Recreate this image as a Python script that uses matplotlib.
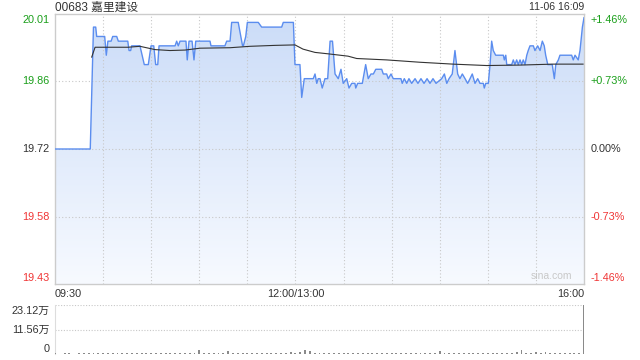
import matplotlib.pyplot as plt
import numpy as np
from matplotlib.colors import LinearSegmentedColormap

# minute index (0 = 09:30, 150 = 12:00/13:00, 330 = 16:00) and price
price_min = [0, 22, 24, 25.4, 26, 31, 32, 33, 35, 36, 38.5, 39.5, 45.4, 46.2, 47.2, 47.8,
             53, 55.7, 58.2, 59.9, 61.6, 62.8, 64.1, 64.9, 74.9, 75.9, 76.9, 78, 81.7, 82.5,
             83.6, 85.5, 86.7, 87.8, 96.7, 97.3, 106, 107.1, 109.2, 110.2, 114.3, 117, 117.5,
             119, 120, 126.8, 128.9, 141.4, 142.4, 148.7, 149.7, 152.8, 153.9, 155.5, 161.1,
             162.2, 163.3, 164.2, 165.3, 166.7, 168.4, 170.1, 171.6, 173.1, 174.7, 176.7,
             178.4, 179.8, 182, 183.4, 185.1, 187.1, 187.6, 188.8, 191.7, 193.8, 195.4, 197.1,
             198.6, 200.1, 203.8, 204.8, 206.9, 207.9, 209.6, 211, 215.8, 216.6, 217.9, 219.4,
             220.8, 222.5, 224.6, 226.4, 228.3, 230.2, 232.1, 233.9, 235.8, 237.7, 241.2,
             242.9, 244.4, 245.8, 247.8, 249.5, 251.2, 252.6, 254.1, 255.8, 257.4, 258.9,
             260.3, 262, 263.7, 265.1, 267.2, 267.8, 268.7, 270.3, 271.4, 272.4, 273.4, 274.9,
             279.7, 280.3, 281.2, 281.8, 284.9, 285.9, 286.9, 288, 289, 290.1, 291.1, 292.1,
             293.2, 294.3, 295.2, 296.3, 298.4, 299.4, 301.1, 302.6, 304, 305.2, 306.1, 307.4,
             310.2, 311.5, 312.4, 314, 315, 322.3, 323.3, 324.4, 326.4, 327.5, 329, 330]
price = [19.72, 19.72, 19.98, 19.98, 19.96, 19.96, 19.92, 19.95, 19.95, 19.96, 19.96, 19.95,
         19.95, 19.93, 19.93, 19.94, 19.94, 19.90, 19.90, 19.94, 19.94, 19.90, 19.90, 19.94,
         19.94, 19.95, 19.94, 19.95, 19.95, 19.91, 19.95, 19.95, 19.91, 19.95, 19.95, 19.94,
         19.94, 19.95, 19.95, 19.99, 19.99, 19.94, 19.94, 19.96, 19.99, 19.99, 19.98, 19.98,
         19.99, 19.99, 19.90, 19.90, 19.83, 19.87, 19.87, 19.88, 19.86, 19.87, 19.87, 19.85,
         19.87, 19.87, 19.95, 19.95, 19.88, 19.87, 19.89, 19.86, 19.87, 19.85, 19.86, 19.86,
         19.85, 19.86, 19.86, 19.90, 19.87, 19.88, 19.88, 19.89, 19.89, 19.88, 19.88, 19.87,
         19.88, 19.87, 19.87, 19.86, 19.87, 19.86, 19.87, 19.86, 19.87, 19.86, 19.87, 19.86,
         19.87, 19.86, 19.87, 19.86, 19.87, 19.88, 19.86, 19.87, 19.88, 19.93, 19.88, 19.87,
         19.88, 19.87, 19.86, 19.87, 19.88, 19.86, 19.87, 19.86, 19.86, 19.85, 19.86, 19.86,
         19.90, 19.95, 19.93, 19.92, 19.92, 19.91, 19.92, 19.90, 19.90, 19.91, 19.90, 19.91,
         19.90, 19.91, 19.90, 19.91, 19.90, 19.92, 19.93, 19.94, 19.94, 19.93, 19.94, 19.93,
         19.95, 19.94, 19.92, 19.90, 19.90, 19.87, 19.90, 19.91, 19.92, 19.92, 19.91, 19.92,
         19.91, 19.93, 19.98, 20.00]

avg_min = [22.9, 25, 45.5, 53, 62.4, 71.7, 81.1, 90.5, 109.2, 121.6, 137.2, 149.7, 154.7,
           162.2, 170.3, 182.8, 188.2, 206.9, 227.7, 248.3, 269.3, 290.1, 310.7, 329.4]
avg_price = [19.916, 19.937, 19.937, 19.939, 19.932, 19.930, 19.931, 19.935, 19.936, 19.939,
             19.941, 19.942, 19.933, 19.926, 19.923, 19.918, 19.913, 19.910, 19.905, 19.901,
             19.898, 19.899, 19.901, 19.901]

# volume in 万 shares, one bar every 3 minutes
vol_min = list(range(0, 331, 3))
vol = [0.3, 0.2, 0.4, 0.3, 0.2, 0.5, 0.3, 0.4, 0.6, 0.4,
       0.3, 0.5, 0.4, 0.3, 0.6, 0.4, 0.3, 0.5, 0.4, 0.3,
       0.4, 0.3, 0.5, 0.4, 0.3, 0.4, 0.5, 0.3, 0.4, 0.6,
       1.9, 0.5, 0.4, 0.3, 0.5, 0.4, 1.4, 0.5, 0.3, 0.4,
       0.5, 0.3, 0.4, 0.3, 0.5, 0.4, 0.3, 0.4, 0.6, 0.8,
       0.7, 0.9, 1.9, 1.4, 0.6, 0.5, 0.4, 0.3, 0.5, 0.4,
       0.3, 0.4, 0.5, 0.3, 0.4, 0.3, 0.5, 0.4, 0.3, 0.4,
       0.5, 0.4, 0.3, 0.6, 0.4, 0.5, 0.3, 0.4, 0.5, 0.7,
       1.4, 0.6, 0.4, 0.5, 0.3, 0.4, 0.6, 0.5, 0.4, 0.3,
       0.5, 0.4, 0.6, 0.5, 0.4, 0.7, 0.8, 1.9, 0.6, 0.5,
       1.0, 0.6, 1.0, 0.7, 0.5, 0.6, 0.4, 0.5, 0.6, 0.5,
       23.12]

prev_close = 19.72
left_labels = ["20.01", "19.86", "19.72", "19.58", "19.43"]
right_labels = ["+1.46%", "+0.73%", "0.00%", "-0.73%", "-1.46%"]
label_pct = [1.46, 0.73, 0.0, -0.73, -1.46]
vol_labels = ["23.12万", "11.56万", "0"]

GREEN = "#1a9f1a"
RED = "#f03535"
DARK = "#333333"
GRIDC = "#c8c8c8"
FONT = ["Liberation Sans", "Noto Sans CJK SC", "DejaVu Sans"]
plt.rcParams['font.family'] = FONT

fig = plt.figure(figsize=(6.4, 3.6), dpi=100)
ax = fig.add_axes([55/640, 1-284/360, 529/640, 270/360])
ylo = prev_close*(1-0.0146)
yhi = prev_close*(1+0.0146)

# gradient fill under the price line
fb = ax.fill_between(price_min, price, ylo, facecolor='none', edgecolor='none')
cmap = LinearSegmentedColormap.from_list("g", ["#f7faff", "#cbdcf8"])
grad = np.linspace(0, 1, 256).reshape(-1, 1)
im = ax.imshow(grad, extent=[0, 330, ylo, yhi], origin='lower', aspect='auto',
               cmap=cmap, zorder=1)
im.set_clip_path(fb.get_paths()[0], transform=ax.transData)

ax.plot(price_min, price, color="#5b8def", lw=1.0, zorder=3)
ax.plot(avg_min, avg_price, color="#333333", lw=0.8, zorder=4)
ax.set_xlim(0, 330)
ax.set_ylim(ylo, yhi)

for m in range(30, 330, 30):
    ax.axvline(m, color=GRIDC, lw=0.8, ls=(0, (1, 2)), zorder=2)
for p in label_pct[1:4]:
    ax.axhline(prev_close*(1+p/100), color=GRIDC, lw=0.8, ls=(0, (1, 2)), zorder=2)
for s in ax.spines.values():
    s.set_color("#cccccc")
    s.set_linewidth(1)
ax.set_xticks([])
ax.set_yticks([])

cols = [GREEN, GREEN, DARK, RED, RED]
vas = ['top', 'center', 'center', 'center', 'bottom']
offs = [-1, 0, 0, 0, 1]
for lab, rlab, p, c, va, o in zip(left_labels, right_labels, label_pct, cols, vas, offs):
    yv = prev_close*(1+p/100)
    ax.annotate(lab, (0, yv), xytext=(-4, o), textcoords='offset points', ha='right', va=va,
                color=c, fontsize=7.8, annotation_clip=False)
    ax.annotate(rlab, (330, yv), xytext=(4.5, o), textcoords='offset points', ha='left', va=va,
                color=c, fontsize=7.8, annotation_clip=False)

ax.text(0, -0.02, "09:30", transform=ax.transAxes, ha='left', va='top', fontsize=7.8, color=DARK)
ax.text(150/330, -0.02, "12:00/13:00", transform=ax.transAxes, ha='center', va='top',
        fontsize=7.8, color=DARK)
ax.text(1, -0.02, "16:00", transform=ax.transAxes, ha='right', va='top', fontsize=7.8, color=DARK)
fig.text(55/640, 1-7.5/360, "00683 嘉里建设", ha='left', va='center', fontsize=8.5, color=DARK)
fig.text(584/640, 1-7.5/360, "11-06 16:09", ha='right', va='center', fontsize=7.6, color=DARK)
ax.text(0.978, 0.012, "sina.com", transform=ax.transAxes, ha='right', va='bottom',
        fontsize=7.5, color="#c8c8c8", zorder=5)

# volume panel
vx = fig.add_axes([55/640, 6/360, 529/640, 49/360])
vx.bar(vol_min, vol, width=1.2, color="#8a8a8a", zorder=3)
vx.set_xlim(0, 330)
vx.set_ylim(0, 23.12)
vx.axhline(23.12, color=GRIDC, lw=0.8, ls=(0, (1, 1.5)))
vx.axhline(11.56, color=GRIDC, lw=0.8, ls=(0, (1, 1.5)))
for k in ['top', 'right', 'bottom']:
    vx.spines[k].set_visible(False)
vx.spines['left'].set_color("#dddddd")
vx.set_xticks([])
vx.set_yticks([])
for lab, yv, va, o in zip(vol_labels, [23.12, 11.56, 0], ['top', 'center', 'bottom'], [-1, 0, 0]):
    vx.annotate(lab, (0, yv), xytext=(-4, o), textcoords='offset points', ha='right', va=va,
                color=DARK, fontsize=7.8, annotation_clip=False)

fig.savefig("out.png", dpi=100)
